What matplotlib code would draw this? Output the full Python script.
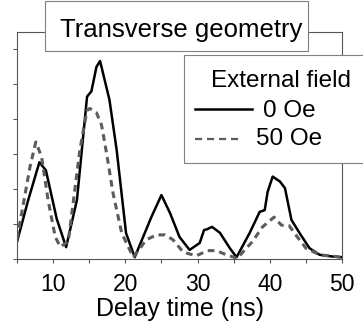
import matplotlib
matplotlib.use("Agg")
import matplotlib.pyplot as plt
from matplotlib.lines import Line2D
from matplotlib.patches import Rectangle
from matplotlib.ticker import MultipleLocator, NullFormatter

plt.rcParams["font.family"] = ["Liberation Sans", "DejaVu Sans"]

# echo amplitude vs delay time, zero field
t_0oe = [5, 6.5, 8.1, 9.0, 10.5, 11.8, 13.3, 14.7, 15.3, 16.0, 16.5, 17.8, 18.8,
         20.1, 21.3, 23.6, 25.0, 26.2, 27.5, 28.9, 30.3, 30.9, 31.3, 32.0, 33.1,
         34.5, 35.4, 37.2, 38.6, 39.3, 39.7, 40.4, 41.4, 42.1, 43.0, 44.1, 45.5,
         46.9, 48.7, 50]
y_0oe = [0.49, 1.65, 2.77, 2.54, 1.15, 0.34, 1.69, 4.65, 4.8, 5.5, 5.67, 4.56, 3.12,
         0.74, 0.05, 1.2, 1.83, 1.31, 0.63, 0.26, 0.46, 0.83, 0.85, 0.92, 0.75,
         0.3, 0.05, 0.74, 1.35, 1.4, 1.92, 2.36, 2.22, 2.03, 1.12, 0.75, 0.31,
         0.12, 0.07, 0.05]

# same with 50 Oe applied
t_50oe = [5, 6.8, 7.6, 8.4, 9.3, 10.3, 11.0, 12.1, 13.7, 14.7, 15.1, 16.0, 16.7,
          17.4, 18.3, 19.5, 21.1, 22.9, 24.3, 25.5, 26.6, 28.0, 29.8, 31.4, 32.6,
          34.0, 35.5, 37.6, 39.0, 40.6, 41.6, 42.7, 43.6, 45.0, 46.9, 50]
y_50oe = [0.57, 2.64, 3.35, 2.93, 1.69, 0.63, 0.35, 0.5, 3.12, 4.26, 4.31, 4.19, 3.84,
          3.03, 1.88, 0.74, 0.05, 0.55, 0.69, 0.69, 0.55, 0.2, 0.09, 0.24, 0.24,
          0.12, 0.02, 0.5, 0.92, 1.2, 0.97, 0.95, 0.69, 0.31, 0.12, 0.05]

labels = ["0 Oe", "50 Oe"]
legend_title = "External field"
panel_title = "Transverse geometry"

W, H = 363, 321
style_0 = dict(color="black", lw=1.8)
style_50 = dict(color="#5c5c5c", lw=2.2, dashes=(2.2, 1.6))
frame_col = "#808080"


def fx(px):
    return px / W


def fy(py):
    # pixel row (from top) -> figure fraction
    return 1 - py / H


fig = plt.figure(figsize=(W / 100, H / 100), dpi=100)
ax = fig.add_axes([fx(17), fy(259), fx(325), 227 / H])

ax.plot(t_0oe, y_0oe, solid_joinstyle="round", **style_0)
ax.plot(t_50oe, y_50oe, **style_50)

ax.set_xlim(5, 50)
ax.set_ylim(0, 6.5)
ax.xaxis.set_major_locator(MultipleLocator(10))
ax.xaxis.set_minor_locator(MultipleLocator(5))
ax.yaxis.set_major_locator(MultipleLocator(1))
ax.yaxis.set_major_formatter(NullFormatter())
ax.tick_params(axis="both", which="both", direction="out", length=3,
               width=0.8, color="#555555", labelsize=16.5, pad=7)
for sp in ax.spines.values():
    sp.set_color("#555555")
    sp.set_linewidth(0.8)

ax.set_xlabel("Delay time (ns)", fontsize=18, labelpad=1)

# title box sitting on the top spine
fig.patches.append(Rectangle((fx(45), fy(51)), fx(263), 50 / H, transform=fig.transFigure,
                             fc="white", ec=frame_col, lw=0.8, zorder=3))
fig.text(fx(181), fy(37), panel_title, fontsize=18.5, ha="center", va="baseline", zorder=4)

# legend box, running off the right edge
fig.patches.append(Rectangle((fx(184), fy(163)), fx(200), 108 / H, transform=fig.transFigure,
                             fc="white", ec=frame_col, lw=0.8, zorder=3))
fig.text(fx(211), fy(87), legend_title, fontsize=17.5, ha="left", va="baseline", zorder=4)

rows = [(style_0, labels[0], 109, 117, 263, 252), (style_50, labels[1], 139, 145, 256, 243)]
for st, lab, yl, yb, xt, xe in rows:
    kw = dict(st)
    if "dashes" in kw:
        kw["lw"] = 1.6
        kw["dashes"] = (3.2, 2.2)
    fig.lines.append(Line2D([fx(195), fx(xe)], [fy(yl), fy(yl)], transform=fig.transFigure,
                            zorder=4, **kw))
    fig.text(fx(xt), fy(yb), lab, fontsize=17.5, ha="left", va="baseline", zorder=4)

fig.savefig("out.png", dpi=100)
